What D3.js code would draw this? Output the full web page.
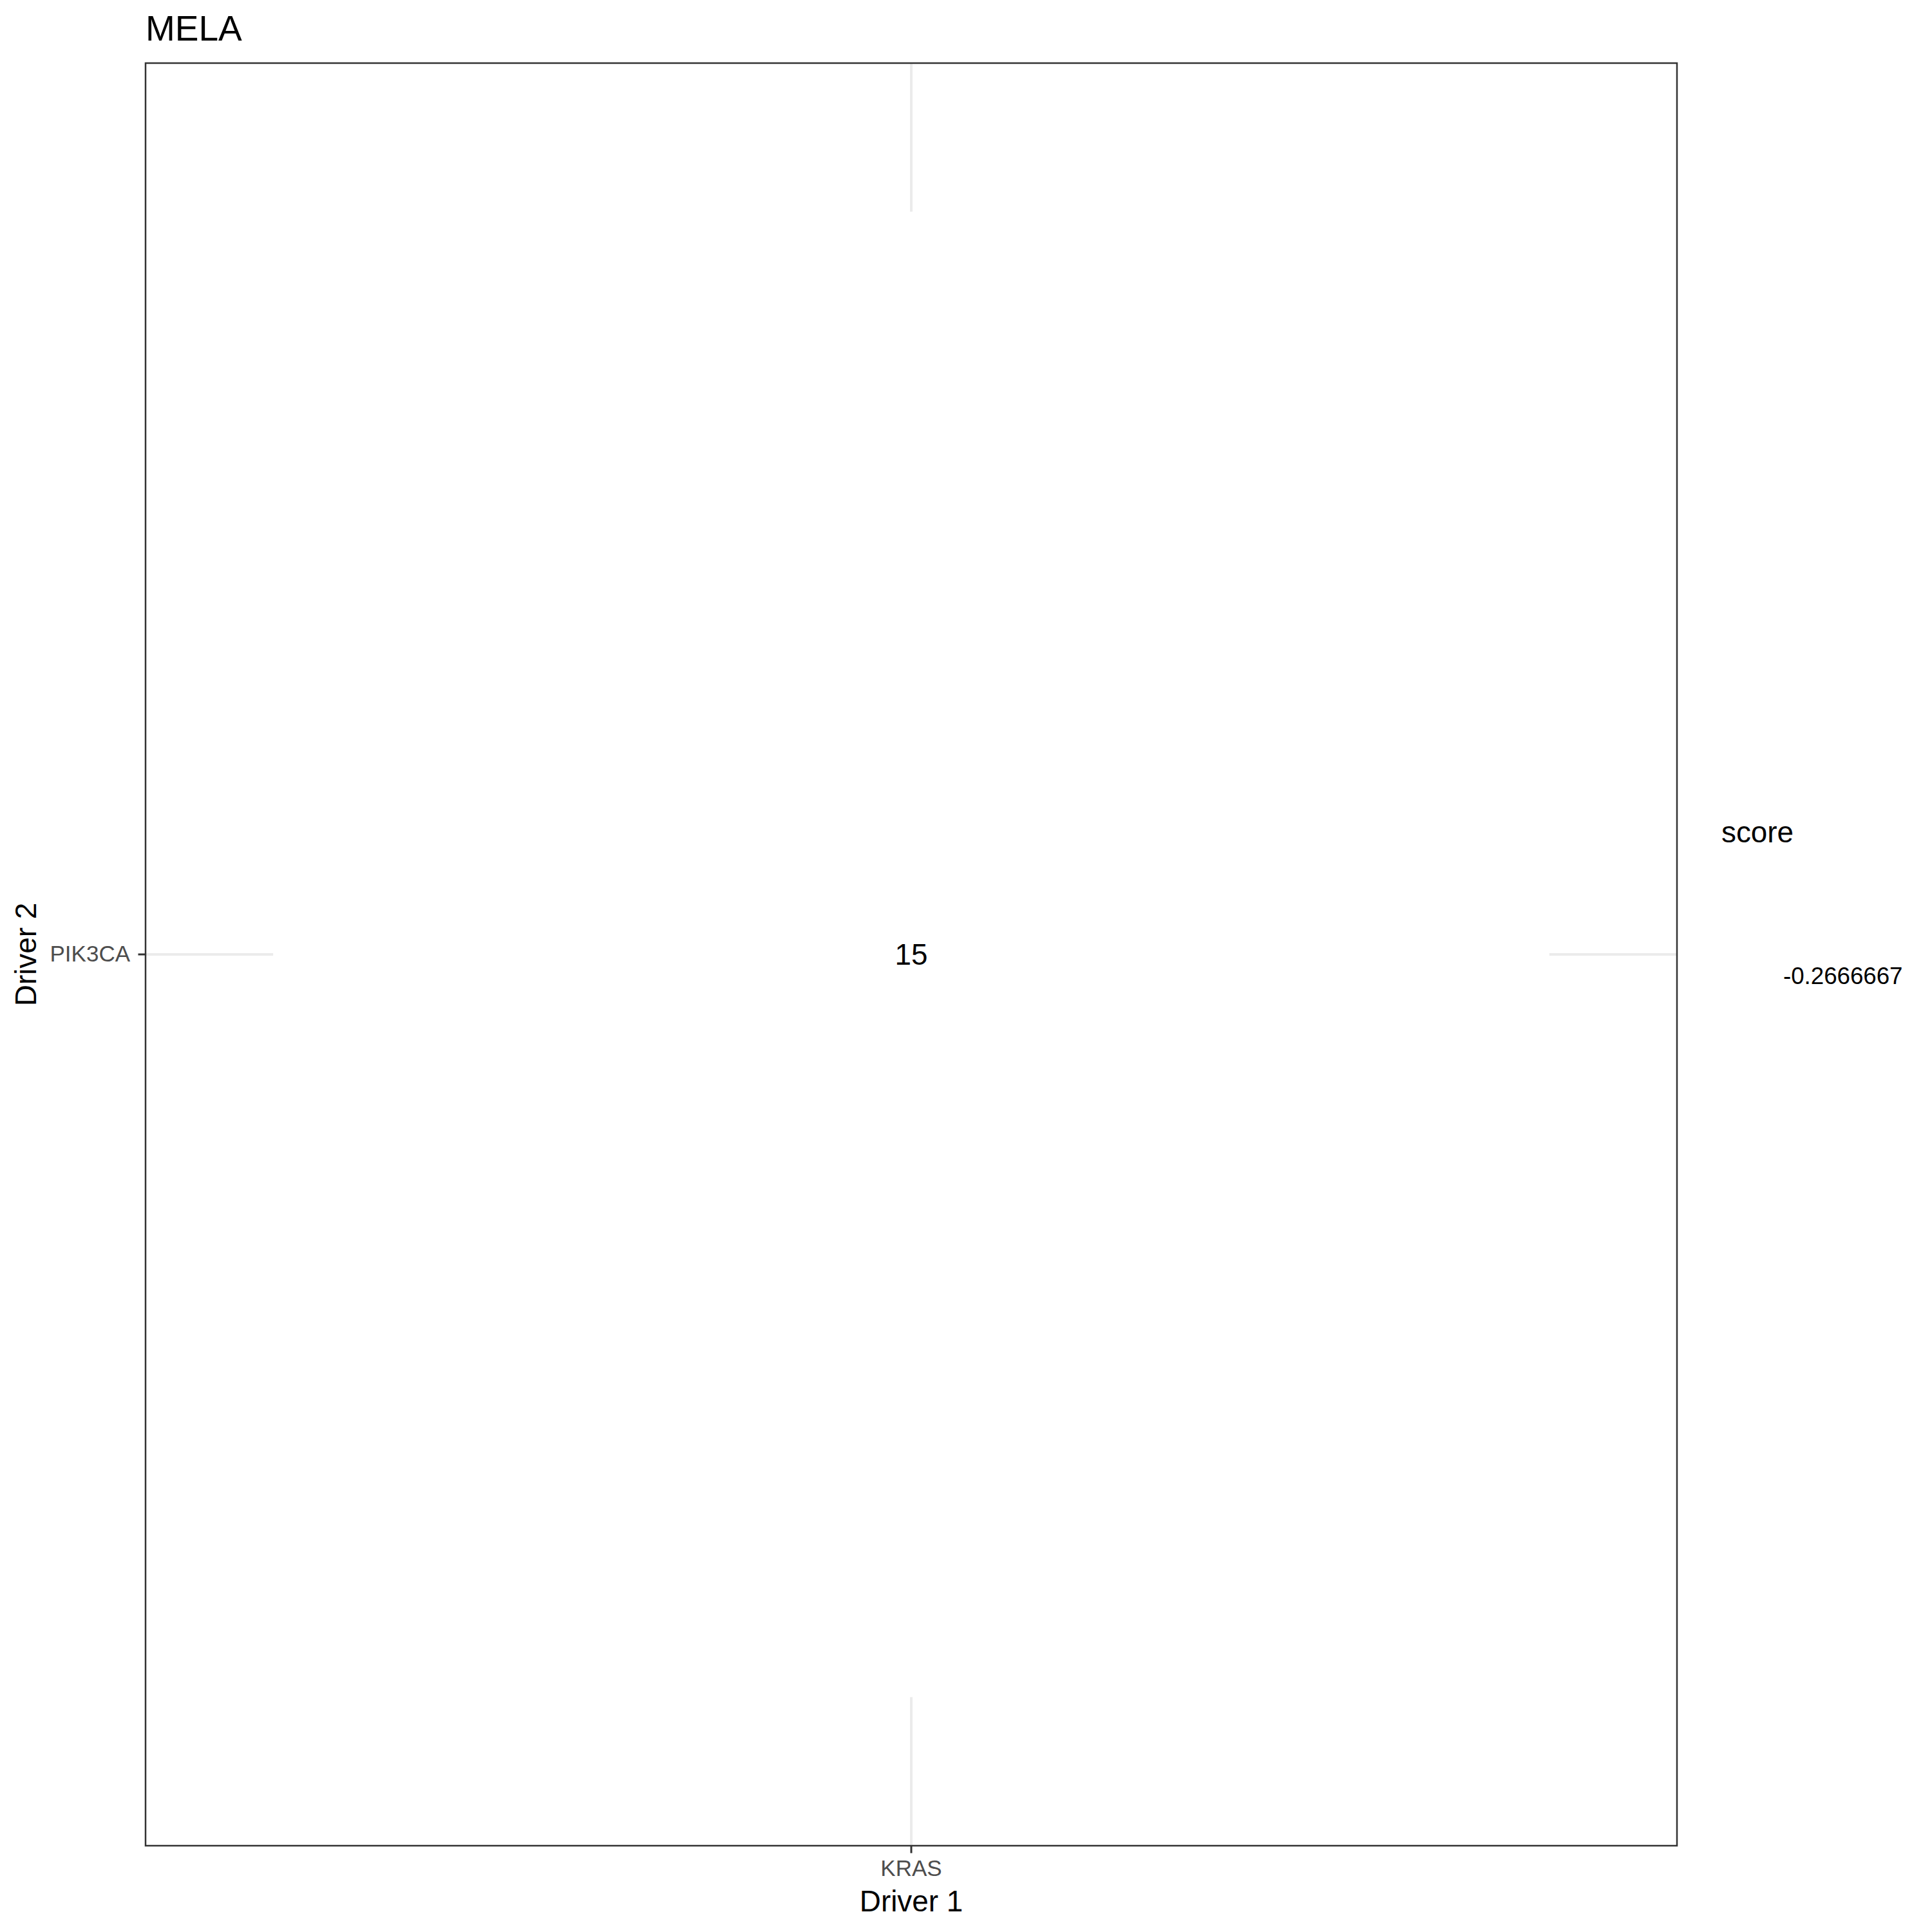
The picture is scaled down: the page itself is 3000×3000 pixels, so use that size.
<!DOCTYPE html>
<html>
<head>
<meta charset="utf-8">
<script src="https://cdn.jsdelivr.net/npm/d3@7"></script>
<style>
  html, body { margin: 0; padding: 0; background: #fff; }
  text { font-family: "Liberation Sans", Arial, Helvetica, sans-serif; }
</style>
</head>
<body>
<script>
// ---- Data ----
const chartTitle = "MELA";
const driver1 = ["KRAS"];          // x categories
const driver2 = ["PIK3CA"];        // y categories
const cellX = ["KRAS"];
const cellY = ["PIK3CA"];
const cellScore = [-0.2666667];
const cellCount = [15];
const legendTitle = "score";
const legendLabels = ["-0.2666667"];

const cells = cellX.map((x, i) => ({ x, y: cellY[i], score: cellScore[i], count: cellCount[i] }));

// ---- Layout ----
const W = 3000, H = 3000;
const panel = { left: 226, top: 98, right: 2604, bottom: 2866 };

const svg = d3.select("body").append("svg")
  .attr("width", W).attr("height", H)
  .attr("viewBox", `0 0 ${W} ${H}`);

svg.append("rect").attr("width", W).attr("height", H).attr("fill", "#ffffff");

const x = d3.scaleBand().domain(driver1)
  .range([panel.left, panel.right]).paddingInner(0).paddingOuter(0.1);
const y = d3.scaleBand().domain(driver2)
  .range([panel.bottom, panel.top]).paddingInner(0).paddingOuter(0.1);

// single-valued score range -> mid colour (white) of a diverging palette
const ext = d3.extent(cellScore);
const color = d3.scaleDiverging(d3.piecewise(d3.interpolateRgb, ["#2166AC", "#FFFFFF", "#B2182B"]))
  .domain([ext[0], (ext[0] + ext[1]) / 2, ext[1]]);

// panel background
svg.append("rect")
  .attr("x", panel.left).attr("y", panel.top)
  .attr("width", panel.right - panel.left).attr("height", panel.bottom - panel.top)
  .attr("fill", "#ffffff");

// grid lines
const grid = svg.append("g").attr("stroke", "#EBEBEB").attr("stroke-width", 4);
grid.selectAll("line.vx").data(driver1).join("line")
  .attr("x1", d => x(d) + x.bandwidth() / 2).attr("x2", d => x(d) + x.bandwidth() / 2)
  .attr("y1", panel.top).attr("y2", panel.bottom);
grid.selectAll("line.hy").data(driver2).join("line")
  .attr("y1", d => y(d) + y.bandwidth() / 2).attr("y2", d => y(d) + y.bandwidth() / 2)
  .attr("x1", panel.left).attr("x2", panel.right);

// tiles
svg.append("g").selectAll("rect").data(cells).join("rect")
  .attr("x", d => x(d.x)).attr("y", d => y(d.y))
  .attr("width", x.bandwidth()).attr("height", y.bandwidth())
  .attr("fill", d => color(d.score));

// cell labels
svg.append("g").selectAll("text").data(cells).join("text")
  .attr("x", d => x(d.x) + x.bandwidth() / 2)
  .attr("y", d => y(d.y) + y.bandwidth() / 2)
  .attr("dy", "0.35em")
  .attr("text-anchor", "middle")
  .attr("font-size", 45.83)
  .attr("fill", "#000")
  .text(d => d.count);

// panel border
svg.append("rect")
  .attr("x", panel.left).attr("y", panel.top)
  .attr("width", panel.right - panel.left).attr("height", panel.bottom - panel.top)
  .attr("fill", "none").attr("stroke", "#333333").attr("stroke-width", 2.5);

// axes
const xAxis = svg.append("g")
  .attr("transform", `translate(0,${panel.bottom})`)
  .call(d3.axisBottom(x).tickSize(11.5).tickPadding(11));
const yAxis = svg.append("g")
  .attr("transform", `translate(${panel.left},0)`)
  .call(d3.axisLeft(y).tickSize(11.5).tickPadding(12.5));
[xAxis, yAxis].forEach(a => {
  a.select(".domain").remove();
  a.selectAll(".tick line").attr("stroke", "#333333").attr("stroke-width", 3);
  a.selectAll(".tick text").attr("fill", "#4D4D4D")
    .attr("font-size", 35)
    .attr("font-family", "'Liberation Sans', Arial, Helvetica, sans-serif");
});

// axis titles
svg.append("text")
  .attr("x", (panel.left + panel.right) / 2).attr("y", 2968)
  .attr("text-anchor", "middle").attr("font-size", 45.83).attr("fill", "#000")
  .text("Driver 1");
svg.append("text")
  .attr("transform", `translate(56,${(panel.top + panel.bottom) / 2}) rotate(-90)`)
  .attr("text-anchor", "middle").attr("font-size", 45.83).attr("fill", "#000")
  .text("Driver 2");

// title
svg.append("text")
  .attr("x", 226).attr("y", 63)
  .attr("font-size", 55).attr("fill", "#000")
  .text(chartTitle);

// legend
const legend = svg.append("g");
legend.append("text")
  .attr("x", 2673).attr("y", 1308)
  .attr("font-size", 45.83).attr("fill", "#000")
  .text(legendTitle);
legend.selectAll("text.lab").data(legendLabels).join("text")
  .attr("class", "lab")
  .attr("x", 2769).attr("y", 1528)
  .attr("font-size", 36.67).attr("fill", "#000")
  .text(d => d);
</script>
</body>
</html>
